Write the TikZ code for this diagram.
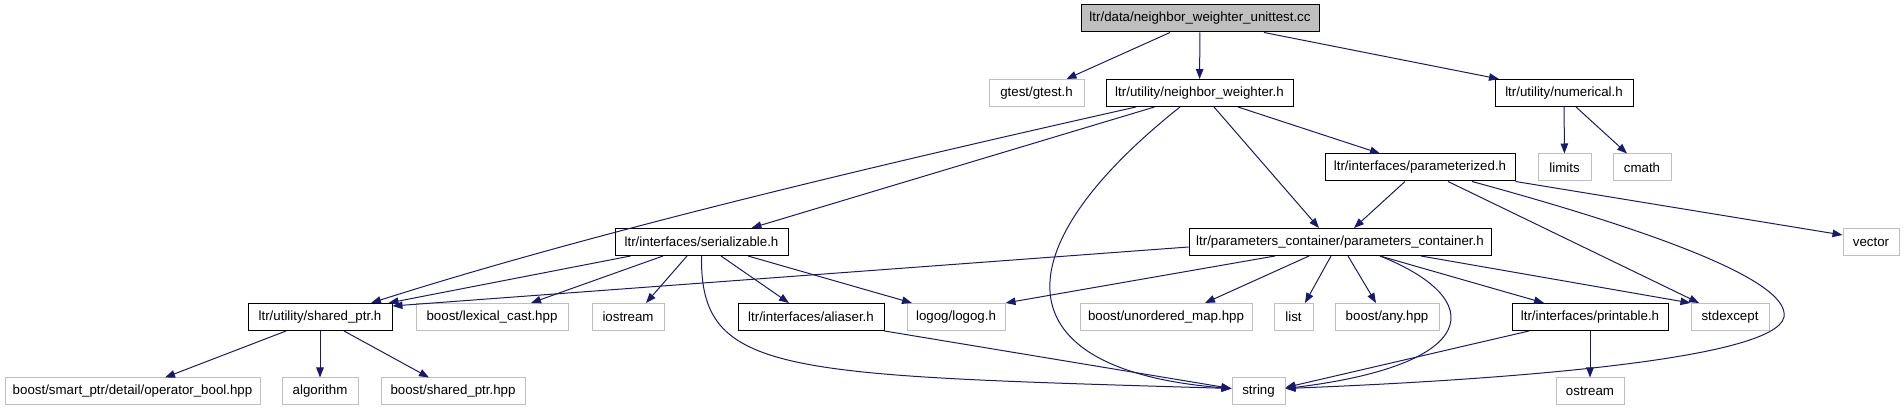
\documentclass[tikz,border=0pt]{standalone}
\usepackage{fontspec}
\setmainfont{Liberation Sans}
\usetikzlibrary{arrows.meta}
\definecolor{edgeblue}{HTML}{191970}
\definecolor{extgray}{HTML}{BFBFBF}
\tikzset{
  docfile/.style={draw=black, fill=white, line width=1pt, minimum height=27pt, inner sep=0pt, font=\fontsize{13.3}{16}\selectfont},
  extfile/.style={docfile, draw=extgray},
  mainfile/.style={docfile, fill=extgray},
  incl/.style={draw=edgeblue, line width=1pt, -{Triangle[length=10pt,width=7.5pt]}}
}

\begin{document}
\begin{tikzpicture}[x=1pt,y=-1pt]
   \useasboundingbox (0,0) rectangle (1904,411);

   % files
   \node[mainfile, minimum width=238pt] (unittest) at (1200,18.5) {ltr/data/neighbor\_weighter\_unittest.cc};

   \node[extfile, minimum width=95pt] (gtest) at (1036.5,93) {gtest/gtest.h};
   \node[docfile, minimum width=187pt] (nw) at (1199.5,93) {ltr/utility/neighbor\_weighter.h};
   \node[docfile, minimum width=138pt] (numerical) at (1564,93) {ltr/utility/numerical.h};

   \node[docfile, minimum width=190pt] (param) at (1420,167.5) {ltr/interfaces/parameterized.h};
   \node[extfile, minimum width=53pt] (limits) at (1564.5,167.5) {limits};
   \node[extfile, minimum width=58pt] (cmath) at (1642,167.5) {cmath};

   \node[docfile, minimum width=173pt] (ser) at (701.5,242) {ltr/interfaces/serializable.h};
   \node[docfile, minimum width=302pt] (pc) at (1340,242) {ltr/parameters\_container/parameters\_container.h};
   \node[extfile, minimum width=56pt] (vector) at (1871,242) {vector};

   \node[docfile, minimum width=144pt] (sptr) at (320,317) {ltr/utility/shared\_ptr.h};
   \node[extfile, minimum width=152pt] (lexical) at (492,317) {boost/lexical\_cast.hpp};
   \node[extfile, minimum width=72pt] (iostream) at (628,317) {iostream};
   \node[docfile, minimum width=146pt] (aliaser) at (811,317) {ltr/interfaces/aliaser.h};
   \node[extfile, minimum width=98pt] (logog) at (956,317) {logog/logog.h};
   \node[extfile, minimum width=172pt] (umap) at (1166,317) {boost/unordered\_map.hpp};
   \node[extfile, minimum width=39pt] (list) at (1293.5,317) {list};
   \node[extfile, minimum width=104pt] (any) at (1387,317) {boost/any.hpp};
   \node[docfile, minimum width=156pt] (printable) at (1590,317) {ltr/interfaces/printable.h};
   \node[extfile, minimum width=78pt] (stdexcept) at (1730,317) {stdexcept};

   \node[extfile, minimum width=255pt] (opbool) at (132.5,391.5) {boost/smart\_ptr/detail/operator\_bool.hpp};
   \node[extfile, minimum width=76pt] (algorithm) at (320,391.5) {algorithm};
   \node[extfile, minimum width=144pt] (sptrhpp) at (453,391.5) {boost/shared\_ptr.hpp};
   \node[extfile, minimum width=53pt] (string) at (1258.5,391.5) {string};
   \node[extfile, minimum width=68pt] (ostream) at (1590,391.5) {ostream};

   % includes
   \draw[incl] ([xshift=-30pt]unittest.south) -- ([xshift=30pt]gtest.north);
   \draw[incl] (unittest) -- (nw);
   \draw[incl] ([xshift=64pt]unittest.south) -- ([xshift=-65pt]numerical.north);

   \draw[incl] ([xshift=-63.5pt]nw.south) .. controls (900,160) and (600,230) .. ([xshift=51pt]sptr.north);
   \draw[incl] ([xshift=-45pt]nw.south) -- ([xshift=50pt]ser.north);
   \draw[incl] ([xshift=-19.5pt]nw.south) .. controls (1000,250) and (1000,370) .. ([yshift=3pt]string.west);
   \draw[incl] ([xshift=14.5pt]nw.south) -- ([xshift=-21pt]pc.north);
   \draw[incl] ([xshift=38.5pt]nw.south) -- ([xshift=-40pt]param.north);

   \draw[incl] (numerical) -- (limits);
   \draw[incl] ([xshift=12pt]numerical.south) -- ([xshift=-15pt]cmath.north);

   \draw[incl] ([xshift=-15pt]param.south) -- ([xshift=14pt]pc.north);
   \draw[incl] ([xshift=28pt]param.south) -- ([xshift=-31pt]stdexcept.north);
   \draw[incl] ([xshift=52pt]param.south) .. controls (1650,230) and (1790,280) .. (1784,317)
      .. controls (1775,360) and (1500,380) .. ([yshift=3pt]string.east);
   \draw[incl] (param.south east) -- ([yshift=7pt]vector.west);

   \draw[incl] ([yshift=-5pt]pc.west) -- ([yshift=-3pt]sptr.north east);
   \draw[incl] ([xshift=-65pt]pc.south) -- (logog.north east);
   \draw[incl] ([xshift=-31pt]pc.south) -- ([xshift=39pt]umap.north);
   \draw[incl] ([xshift=-9pt]pc.south) -- ([xshift=11.5pt]list.north);
   \draw[incl] ([xshift=8pt]pc.south) -- ([xshift=-11pt]any.north);
   \draw[incl] ([xshift=40pt]pc.south) .. controls (1490,300) and (1480,365) .. ([yshift=3pt]string.east);
   \draw[incl] ([xshift=40pt]pc.south) -- ([xshift=-46pt]printable.north);
   \draw[incl] ([xshift=81pt]pc.south) -- (stdexcept.north west);

   \draw[incl] ([xshift=16pt]ser.south west) -- ([xshift=-4pt]sptr.north east);
   \draw[incl] ([xshift=-38.5pt]ser.south) -- ([xshift=39pt]lexical.north);
   \draw[incl] ([xshift=-14.5pt]ser.south) -- ([xshift=18pt]iostream.north);
   \draw[incl] ([xshift=19.5pt]ser.south) -- ([xshift=-22pt]aliaser.north);
   \draw[incl] ([xshift=46.5pt]ser.south) -- ([xshift=-44pt]logog.north);
   \draw[incl] (ser.south) .. controls (700,375) and (780,375) .. ([yshift=3pt]string.west);

   \draw[incl] (aliaser.south east) -- ([yshift=3pt]string.west);
   \draw[incl] ([xshift=-61pt]printable.south) -- ([yshift=4pt]string.east);
   \draw[incl] (printable) -- (ostream);

   \draw[incl] ([xshift=-34pt]sptr.south) -- ([xshift=32.5pt]opbool.north);
   \draw[incl] (sptr) -- (algorithm);
   \draw[incl] ([xshift=24pt]sptr.south) -- ([xshift=-24pt]sptrhpp.north);
\end{tikzpicture}
\end{document}
